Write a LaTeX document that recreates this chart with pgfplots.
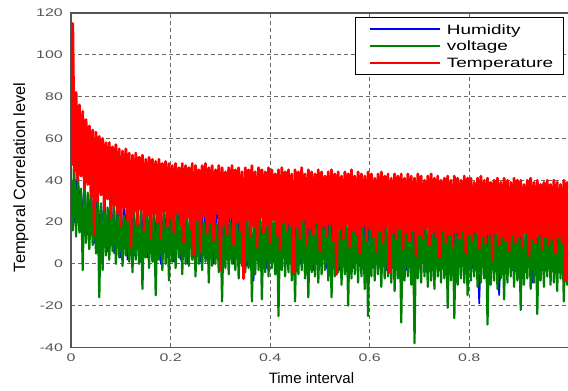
\documentclass[border=0pt]{standalone}
\usepackage{fontspec}
\setmainfont{Liberation Sans}
\newfontfamily\tickfont[FakeStretch=1.45]{Liberation Sans}
\newfontfamily\legfont[FakeStretch=1.4]{Liberation Sans}
\usepackage{pgfplots}
\pgfplotsset{compat=1.18}
\definecolor{axgray}{RGB}{85,85,85}
\definecolor{gridgray}{RGB}{105,105,105}
\definecolor{tickgray}{RGB}{85,85,85}
\definecolor{mblue}{RGB}{0,0,255}
\definecolor{mgreen}{RGB}{0,128,0}
\definecolor{mred}{RGB}{255,0,0}
\begin{document}
\begin{tikzpicture}
\begin{axis}[
  name=ax, scale only axis, width=497pt, height=334pt,
  xmin=0, xmax=300, ymin=-40, ymax=120,
  xtick={0,60,120,180,240}, xticklabels={0,0.2,0.4,0.6,0.8},
  ytick={-40,-20,0,20,40,60,80,100,120},
  grid=major,
  major grid style={gridgray, line width=0.8pt, dash pattern=on 4pt off 3pt},
  axis line style={axgray, line width=1.6pt},
  major tick length=0pt,
  /pgf/number format/assume math mode=true,
  tick label style={font=\tickfont\fontsize{11}{13}\selectfont, text=tickgray},
  yticklabel style={anchor=east, inner sep=0pt, xshift=-8pt},
  xticklabel style={anchor=north, inner sep=0pt, yshift=-6pt},
  xlabel={Time interval}, ylabel={Temporal Correlation level},
  xlabel style={at={(axis description cs:0.483,-0.1078)}, anchor=base, inner sep=0pt, font=\fontsize{15}{18}\selectfont},
  ylabel style={at={(axis description cs:-0.0926,0.509)}, anchor=base, inner sep=0pt, rotate=0, font=\fontsize{16.3}{19}\selectfont},
  legend cell align=left,
  legend image code/.code={\path (-5pt,0pt) (74pt,0pt); \draw[#1] (0pt,0pt) -- (70pt,0pt);},
  legend style={at={(0.99,0.988)}, anchor=north east, draw=black, line width=1.2pt, fill=white,
    font=\legfont\fontsize{13.5}{16}\selectfont, inner xsep=8pt, inner ysep=3.5pt, row sep=0.2pt,
    nodes={inner sep=2pt, text height=11pt, text depth=1.5pt}},
]
\addplot[mblue, line width=1.6pt, line join=round, legend image post style={line width=1.8pt}] coordinates {
(0,40)(2,20)(4,45)(6,18)(8,38)(10,14)(12,36)(14,10)(16,34)(18,8)(20,33)(22,6)(24,32)(26,5)
(28,31)(30,3)(32,30)(34,2)(36,32)(38,4)(40,29)(42,1)(44,31)(46,3)(48,30)(50,2)(52,31)(54,0)(56,29)(58,3)
(60,30)(62,1)(64,31)(66,2)(68,29)(70,0)(72,30)(74,3)(76,28)(78,1)(80,31)(82,2)(84,29)(86,0)(88,30)(90,1)(92,28)(94,2)(96,30)(98,0)
(100,29)(102,1)(104,30)(106,-1)(108,28)(110,-8)(112,29)(114,0)(116,30)(118,-2)(120,28)(122,1)(124,29)(126,-1)(128,27)(130,0)(132,29)(134,-2)(136,28)(138,0)
(140,27)(142,-1)(144,29)(146,-3)(148,28)(150,0)(152,27)(154,-2)(156,29)(158,-1)(160,26)(162,-3)(164,28)(166,0)(168,27)(170,-2)(172,28)(174,-1)(176,26)(178,-3)
(180,27)(182,-2)(184,28)(186,-1)(188,26)(190,-3)(192,27)(194,-2)(196,28)(198,0)(200,26)(202,-3)(204,27)(206,-1)(208,25)(210,-2)(212,27)(214,-4)(216,26)(218,-1)
(220,25)(222,-3)(224,27)(226,-2)(228,26)(230,-4)(232,25)(234,-1)(236,26)(238,-3)(240,24)(242,-2)(244,26)(246,-19)(248,25)(250,-3)(252,26)(254,-2)(256,24)(258,-15)
(260,25)(262,-2)(264,24)(266,-3)(268,26)(270,-1)(272,24)(274,-4)(276,25)(278,-9)(280,23)(282,-2)(284,25)(286,-3)(288,24)(290,-1)(292,23)(294,-4)(296,25)(298,-2)(300,24)
};
\addlegendentry{Humidity}
\addplot[mgreen, line width=2.2pt, line join=round, legend image post style={line width=1.5pt}] coordinates {
(0,46)(1,16)(2,45)(3,13)(4,40)(5,15)(6,36)(7,-3)(8,38)(9,10)
(10,34)(11,7)(12,33)(13,9)(14,30)(15,5)(16,31)(17,-16)(18,29)(19,-3)
(20,30)(21,4)(22,27)(23,2)(24,25)(25,6)(26,28)(27,0)(28,24)(29,3)
(30,26)(31,-1)(32,23)(33,4)(34,27)(35,1)(36,22)(37,-4)(38,25)(39,2)
(40,24)(41,0)(42,26)(43,-12)(44,21)(45,3)(46,25)(47,-2)(48,23)(49,1)
(50,27)(51,-15)(52,22)(53,2)(54,24)(55,-3)(56,26)(57,0)(58,21)(59,-8)
(60,25)(61,1)(62,23)(63,-2)(64,26)(65,3)(66,20)(67,-5)(68,24)(69,0)
(70,22)(71,-1)(72,25)(73,2)(74,21)(75,-6)(76,23)(77,0)(78,26)(79,-3)
(80,20)(81,1)(82,24)(83,-9)(84,22)(85,-1)(86,25)(87,0)(88,19)(89,-4)
(90,23)(91,-18)(92,21)(93,-2)(94,24)(95,-5)(96,20)(97,0)(98,22)(99,-3)
(100,25)(101,-7)(102,19)(103,-1)(104,23)(105,-4)(106,21)(107,-2)(108,24)(109,-18)
(110,20)(111,-5)(112,22)(113,-3)(114,24)(115,-17)(116,19)(117,-4)(118,23)(119,-6)
(120,21)(121,-2)(122,22)(123,-5)(124,25)(125,-25)(126,19)(127,-3)(128,23)(129,-6)
(130,20)(131,-4)(132,24)(133,-8)(134,18)(135,-18)(136,22)(137,-5)(138,21)(139,-3)
(140,24)(141,-7)(142,19)(143,-16)(144,22)(145,-4)(146,20)(147,-6)(148,23)(149,-9)
(150,18)(151,-5)(152,21)(153,-3)(154,24)(155,-8)(156,19)(157,-16)(158,22)(159,-6)
(160,20)(161,-4)(162,23)(163,-10)(164,18)(165,-5)(166,21)(167,-20)(168,19)(169,-7)
(170,22)(171,-5)(172,20)(173,-9)(174,23)(175,-6)(176,18)(177,-12)(178,21)(179,-25)
(180,19)(181,-6)(182,22)(183,-8)(184,19)(185,-5)(186,21)(187,-11)(188,23)(189,-7)
(190,18)(191,-6)(192,20)(193,-9)(194,22)(195,-13)(196,17)(197,-7)(198,21)(199,-28)
(200,19)(201,-8)(202,22)(203,-6)(204,18)(205,-10)(206,20)(207,-38)(208,21)(209,-7)
(210,17)(211,-9)(212,22)(213,-6)(214,19)(215,-11)(216,20)(217,-8)(218,18)(219,-12)
(220,21)(221,-6)(222,17)(223,-9)(224,20)(225,-7)(226,22)(227,-21)(228,18)(229,-8)
(230,19)(231,-26)(232,21)(233,-10)(234,17)(235,-7)(236,20)(237,-9)(238,18)(239,-15)
(240,21)(241,-8)(242,19)(243,-6)(244,17)(245,-11)(246,20)(247,-9)(248,18)(249,-7)
(250,21)(251,-29)(252,16)(253,-10)(254,19)(255,-8)(256,20)(257,-12)(258,17)(259,-7)
(260,18)(261,-17)(262,20)(263,-9)(264,16)(265,-6)(266,19)(267,-11)(268,17)(269,-8)
(270,20)(271,-22)(272,18)(273,-10)(274,16)(275,-7)(276,19)(277,-12)(278,17)(279,-9)
(280,20)(281,-24)(282,16)(283,-8)(284,18)(285,-11)(286,19)(287,-6)(288,17)(289,-10)
(290,20)(291,-9)(292,16)(293,-13)(294,18)(295,-7)(296,17)(297,-18)(298,19)(299,-10)
(300,18)
};
\addlegendentry{voltage}
\addplot[mred, line width=2.8pt, line join=round, legend image post style={line width=2.4pt}] coordinates {
(0,47)(1,115)(2,44)(3,82)(4,40)(5,76)(6,42)(7,73)(8,36)(9,69)
(10,38)(11,66)(12,32)(13,64)(14,14)(15,63)(16,30)(17,61)(18,33)(19,60)
(20,26)(21,58)(22,31)(23,58)(24,22)(25,56)(26,28)(27,57)(28,24)(29,55)
(30,18)(31,54)(32,27)(33,55)(34,21)(35,53)(36,8)(37,52)(38,25)(39,53)
(40,19)(41,51)(42,26)(43,52)(44,16)(45,50)(46,23)(47,51)(48,12)(49,50)
(50,24)(51,49)(52,20)(53,50)(54,12)(55,48)(56,25)(57,49)(58,18)(59,48)
(60,22)(61,47)(62,15)(63,48)(64,24)(65,46)(66,19)(67,48)(68,10)(69,47)
(70,22)(71,46)(72,17)(73,48)(74,4)(75,47)(76,21)(77,45)(78,6)(79,47)
(80,23)(81,48)(82,15)(83,46)(84,20)(85,47)(86,11)(87,45)(88,24)(89,47)
(90,-3)(91,46)(92,19)(93,44)(94,14)(95,46)(96,22)(97,47)(98,9)(99,45)
(100,20)(101,46)(102,16)(103,44)(104,-7)(105,46)(106,21)(107,45)(108,13)(109,47)
(110,18)(111,44)(112,8)(113,46)(114,22)(115,45)(116,15)(117,44)(118,19)(119,46)
(120,10)(121,45)(122,21)(123,43)(124,14)(125,45)(126,7)(127,46)(128,20)(129,44)
(130,16)(131,45)(132,19)(133,43)(134,-4)(135,45)(136,18)(137,44)(138,12)(139,46)
(140,21)(141,43)(142,9)(143,45)(144,17)(145,44)(146,14)(147,43)(148,20)(149,45)
(150,6)(151,44)(152,18)(153,42)(154,13)(155,44)(156,19)(157,45)(158,11)(159,43)
(160,-5)(161,44)(162,17)(163,42)(164,12)(165,44)(166,19)(167,43)(168,8)(169,45)
(170,16)(171,42)(172,14)(173,44)(174,5)(175,43)(176,18)(177,42)(178,11)(179,44)
(180,17)(181,43)(182,13)(183,41)(184,6)(185,43)(186,16)(187,44)(188,10)(189,42)
(190,18)(191,43)(192,-4)(193,41)(194,15)(195,43)(196,12)(197,42)(198,17)(199,43)
(200,7)(201,41)(202,15)(203,43)(204,11)(205,42)(206,16)(207,41)(208,4)(209,43)
(210,14)(211,42)(212,12)(213,40)(214,17)(215,42)(216,9)(217,43)(218,15)(219,41)
(220,13)(221,42)(222,3)(223,40)(224,16)(225,41)(226,10)(227,42)(228,14)(229,40)
(230,8)(231,42)(232,15)(233,41)(234,12)(235,40)(236,16)(237,42)(238,5)(239,41)
(240,14)(241,41)(242,11)(243,39)(244,15)(245,41)(246,7)(247,42)(248,13)(249,40)
(250,10)(251,41)(252,14)(253,39)(254,2)(255,40)(256,15)(257,41)(258,9)(259,39)
(260,13)(261,41)(262,11)(263,40)(264,6)(265,39)(266,14)(267,41)(268,10)(269,40)
(270,13)(271,40)(272,8)(273,38)(274,15)(275,40)(276,4)(277,41)(278,12)(279,39)
(280,10)(281,40)(282,14)(283,38)(284,7)(285,39)(286,13)(287,40)(288,9)(289,38)
(290,12)(291,40)(292,5)(293,39)(294,13)(295,38)(296,10)(297,40)(298,-8)(299,39)
(300,12)
};
\addlegendentry{Temperature}
\node[anchor=north, inner sep=0pt, font=\bfseries\fontsize{15}{18}\selectfont] at (axis description cs:0.476,-0.1168) {(b)};
\end{axis}
\pgfresetboundingbox
\path[use as bounding box] ([xshift=-71pt,yshift=-43pt]ax.south west) rectangle ([xshift=-0.8pt,yshift=13pt]ax.north east);
\end{tikzpicture}
\end{document}
